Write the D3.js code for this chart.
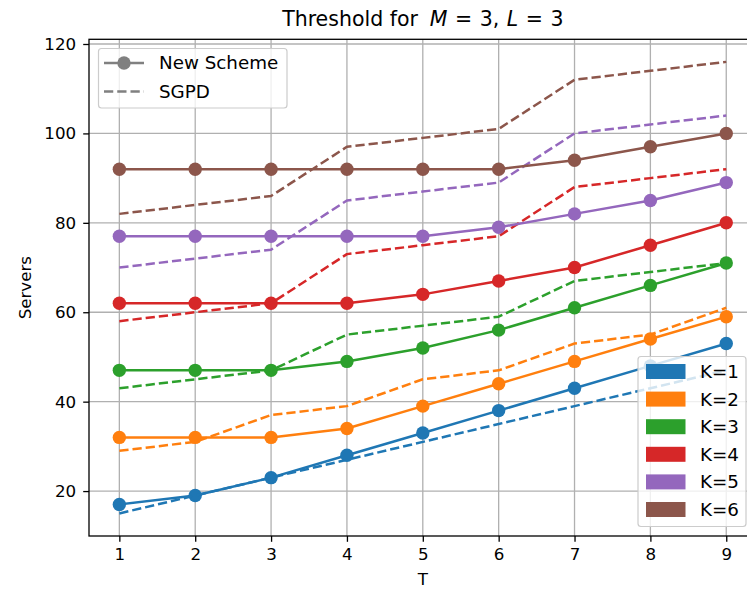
<!DOCTYPE html>
<html>
<head>
<meta charset="utf-8">
<script src="https://cdn.jsdelivr.net/npm/d3@7"></script>
<style>
  html, body { margin: 0; padding: 0; background: #fff; }
  svg { display: block; font-family: "DejaVu Sans", sans-serif; }
</style>
</head>
<body>
<svg id="chart" width="747" height="589"></svg>
<script>
const T = [1, 2, 3, 4, 5, 6, 7, 8, 9];
const kLabels = ["K=1", "K=2", "K=3", "K=4", "K=5", "K=6"];
const colors = ["#1f77b4", "#ff7f0e", "#2ca02c", "#d62728", "#9467bd", "#8c564b"];

const newScheme = [
  [17, 19, 23, 28, 33, 38, 43, 48, 53],
  [32, 32, 32, 34, 39, 44, 49, 54, 59],
  [47, 47, 47, 49, 52, 56, 61, 66, 71],
  [62, 62, 62, 62, 64, 67, 70, 75, 80],
  [77, 77, 77, 77, 77, 79, 82, 85, 89],
  [92, 92, 92, 92, 92, 92, 94, 97, 100]
];
const sgpd = [
  [15, 19, 23, 27, 31, 35, 39, 43, 47],
  [29, 31, 37, 39, 45, 47, 53, 55, 61],
  [43, 45, 47, 55, 57, 59, 67, 69, 71],
  [58, 60, 62, 73, 75, 77, 88, 90, 92],
  [70, 72, 74, 85, 87, 89, 100, 102, 104],
  [82, 84, 86, 97, 99, 101, 112, 114, 116]
];
const yTicks = [20, 40, 60, 80, 100, 120];

const svg = d3.select("#chart");
const L = 89, R = 756.6, Tp = 39.3, B = 536;
const TICK_FS = 16.7, LEG_FS = 18.3, TITLE_FS = 20.5;

const x = d3.scaleLinear().domain([0.6, 9.4]).range([L, R]);
const y = d3.scaleLinear().domain([9.95, 121.05]).range([B, Tp]);

svg.append("defs").append("clipPath").attr("id", "clip")
  .append("rect").attr("x", L).attr("y", Tp).attr("width", R - L).attr("height", B - Tp);

// grid
const grid = svg.append("g");
grid.selectAll("line.gx").data(T).join("line")
  .attr("x1", d => x(d)).attr("x2", d => x(d)).attr("y1", Tp).attr("y2", B)
  .attr("stroke", "#b0b0b0").attr("stroke-width", 1.3);
grid.selectAll("line.gy").data(yTicks).join("line")
  .attr("x1", L).attr("x2", R).attr("y1", d => y(d)).attr("y2", d => y(d))
  .attr("stroke", "#b0b0b0").attr("stroke-width", 1.3);

// series
const plot = svg.append("g").attr("clip-path", "url(#clip)");
const line = d3.line().x((d, i) => x(T[i])).y(d => y(d));
for (let k = 0; k < kLabels.length; k++) {
  plot.append("path").datum(newScheme[k]).attr("d", line)
    .attr("fill", "none").attr("stroke", colors[k]).attr("stroke-width", 2.5)
    .attr("stroke-linejoin", "round").attr("stroke-linecap", "square");
  plot.selectAll(null).data(newScheme[k]).join("circle")
    .attr("cx", (d, i) => x(T[i])).attr("cy", d => y(d)).attr("r", 6.7)
    .attr("fill", colors[k]);
  plot.append("path").datum(sgpd[k]).attr("d", line)
    .attr("fill", "none").attr("stroke", colors[k]).attr("stroke-width", 2.5)
    .attr("stroke-dasharray", "9.25,4").attr("stroke-linejoin", "round");
}

// axes
const xAxis = d3.axisBottom(x).tickValues(T).tickSize(5.8).tickPadding(6.3).tickFormat(d3.format("d"));
const yAxis = d3.axisLeft(y).tickValues(yTicks).tickSize(5.8).tickPadding(7).tickFormat(d3.format("d"));
const gx = svg.append("g").attr("transform", `translate(0,${B})`).call(xAxis);
const gy = svg.append("g").attr("transform", `translate(${L},0)`).call(yAxis);
[gx, gy].forEach(g => {
  g.select(".domain").remove();
  g.selectAll("line").attr("stroke", "#000").attr("stroke-width", 1.3);
  g.selectAll("text").attr("fill", "#000").attr("font-size", TICK_FS)
    .attr("font-family", "DejaVu Sans");
});

// spines
svg.append("rect").attr("x", L).attr("y", Tp).attr("width", R - L).attr("height", B - Tp)
  .attr("fill", "none").attr("stroke", "#000").attr("stroke-width", 1.3);

// title
const title = svg.append("text").attr("x", (L + R) / 2).attr("y", 26)
  .attr("text-anchor", "middle").attr("font-size", TITLE_FS).attr("fill", "#000");
title.append("tspan").text("Threshold for");
title.append("tspan").attr("dx", 12).attr("font-style", "italic").text("M");
title.append("tspan").attr("dx", 7.5).text("=");
title.append("tspan").attr("dx", 7.5).text("3,");
title.append("tspan").attr("dx", 7.5).attr("font-style", "italic").text("L");
title.append("tspan").attr("dx", 7.5).text("=");
title.append("tspan").attr("dx", 7.5).text("3");

// axis labels
svg.append("text").attr("x", (L + R) / 2).attr("y", 585).attr("text-anchor", "middle")
  .attr("font-size", TICK_FS).text("T");
svg.append("text").attr("transform", `translate(31,${(Tp + B) / 2}) rotate(-90)`)
  .attr("text-anchor", "middle").attr("font-size", TICK_FS).text("Servers");

// legend 1 (styles)
const l1 = svg.append("g");
l1.append("rect").attr("x", 98.5).attr("y", 48.5).attr("width", 188.5).attr("height", 59.5)
  .attr("rx", 3).attr("fill", "#fff").attr("fill-opacity", 0.8)
  .attr("stroke", "#cccccc").attr("stroke-width", 1.2);
l1.append("line").attr("x1", 104).attr("x2", 144).attr("y1", 63).attr("y2", 63)
  .attr("stroke", "#808080").attr("stroke-width", 2.5);
l1.append("circle").attr("cx", 124).attr("cy", 63).attr("r", 6.7).attr("fill", "#808080");
l1.append("text").attr("x", 159).attr("y", 63).attr("dy", "0.35em").attr("font-size", LEG_FS).text("New Scheme");
l1.append("line").attr("x1", 104).attr("x2", 144).attr("y1", 91.5).attr("y2", 91.5)
  .attr("stroke", "#808080").attr("stroke-width", 2.5).attr("stroke-dasharray", "9.25,4");
l1.append("text").attr("x", 159).attr("y", 91.5).attr("dy", "0.35em").attr("font-size", LEG_FS).text("SGPD");

// legend 2 (K colors)
const l2 = svg.append("g");
l2.append("rect").attr("x", 638).attr("y", 356.5).attr("width", 108).attr("height", 170)
  .attr("rx", 3).attr("fill", "#fff").attr("fill-opacity", 0.8)
  .attr("stroke", "#cccccc").attr("stroke-width", 1.2);
const ly = d3.scaleLinear().domain([0, 5]).range([371.5, 509.5]);
kLabels.forEach((lab, i) => {
  l2.append("rect").attr("x", 646).attr("y", ly(i) - 7.5).attr("width", 39.5).attr("height", 15)
    .attr("fill", colors[i]);
  l2.append("text").attr("x", 700).attr("y", ly(i)).attr("dy", "0.35em")
    .attr("font-size", LEG_FS).text(lab);
});
</script>
</body>
</html>
